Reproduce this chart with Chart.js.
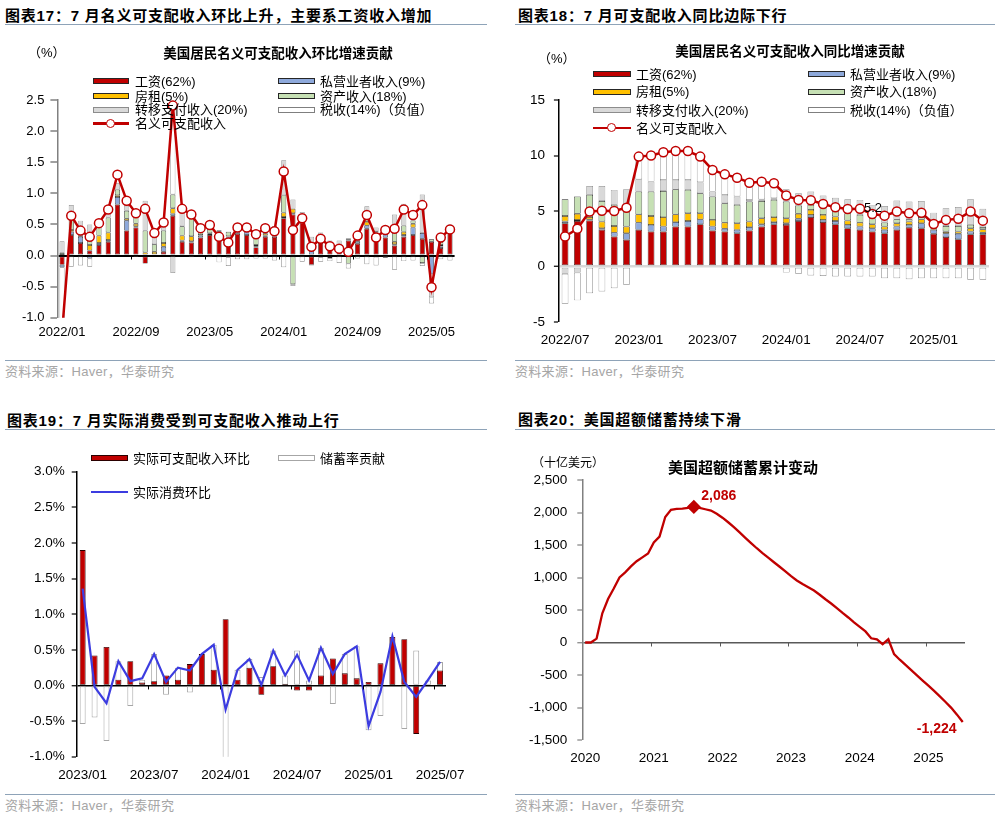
<!DOCTYPE html>
<html>
<head>
<meta charset="utf-8">
<script src="https://cdn.jsdelivr.net/npm/chart.js@4.4.1/dist/chart.umd.min.js"></script>
<style>
body { margin: 0; background: #fff; }
#page { position: relative; width: 995px; height: 814px; overflow: hidden; background: #fff;
  font-family: "Liberation Sans", "Noto Sans CJK SC", sans-serif; color: #000; }
#page div, #page canvas { position: absolute; }
.t { font-weight: bold; font-size: 15px; line-height: 15px; letter-spacing: .8px; white-space: nowrap; }
.rule { height: 1.5px; background: #8ea3b8; }
.src { font-size: 13px; line-height: 13px; color: #a6a6a6; white-space: nowrap; letter-spacing: .3px; }
.ct { font-weight: bold; font-size: 13.5px; line-height: 14px; white-space: nowrap; transform: translateX(-50%); }
.u { font-size: 13px; line-height: 13px; white-space: nowrap; }
.lt { font-size: 13px; line-height: 13px; white-space: nowrap; }
.sw { height: 6px; box-sizing: border-box; border: 1px solid #262626; }
</style>
</head>
<body>
<div id="page">
  <canvas id="c1" width="495" height="320" style="left:0;top:40px"></canvas>
  <canvas id="c2" width="490" height="320" style="left:505px;top:40px"></canvas>
  <canvas id="c3" width="495" height="350" style="left:0;top:440px"></canvas>
  <canvas id="c4" width="490" height="350" style="left:505px;top:440px"></canvas>
</div>
<script>
// month labels helper
function months(start, n) {
  const [y0, m0] = start.split('/').map(Number);
  const out = [];
  for (let i = 0; i < n; i++) {
    const t = m0 - 1 + i;
    out.push((y0 + Math.floor(t / 12)) + '/' + String(t % 12 + 1).padStart(2, '0'));
  }
  return out;
}

// ---- chart 17: MoM contribution (2022/01 - 2025/07)
const cats1 = months('2022/01', 43);
const ticks1 = ['2022/01', '2022/09', '2023/05', '2024/01', '2024/09', '2025/05'];
const wage1 = [-0.15, 0.33, 0.2, 0.08, 0.17, 0.22, 0.82, 0.4, 0.45, -0.13, -0.02, 0.06, 0.64, 0.22, 0.21, 0.29, 0.33, 0.27, 0.29, 0.35, 0.33,
  0.13, 0.3, 0.3, 0.6, 0.66, 0.53, -0.15, 0.2, 0.11, 0.08, 0.24, 0.19, 0.43, 0.3, 0.29, 0.16, 0.3, 0.33, 0.27, 0.22, 0.12, 0.38];
const prop1 = [-0.04, 0.05, 0.1, -0.05, 0.03, 0.03, 0.12, 0.16, 0.02, 0, 0.02, 0.08, 0.03, 0.02, 0.02, 0.03, 0.02, 0.12, 0.01, 0.05, 0.06,
  0.02, 0.02, 0.04, 0.02, 0.02, 0.03, 0.1, 0.02, 0.05, 0.02, 0.02, 0.03, 0.05, 0.07, 0.06, 0.02, 0.03, 0.12, 0.09, -0.3, 0.03, 0.03];
const rent1 = [0.01, 0.03, 0.02, 0.09, 0.12, 0.12, 0.03, 0.03, 0.04, 0.05, 0.04, 0.06, 0.09, 0.08, 0.08, 0.01, 0.01, 0.01, 0.01, 0.02, 0.02,
  0.02, 0.03, 0.02, 0.07, 0.07, 0.03, 0.02, -0.03, -0.04, 0.01, 0.01, 0.02, 0.06, 0.02, 0.01, 0.04, 0.05, 0.06, 0.01, 0, 0.02, 0.02];
const asset1 = [0.03, 0.2, 0.1, 0.2, 0.17, 0.24, 0.09, 0.13, 0.13, 0.35, 0.12, 0.2, 0.22, 0.15, 0.33, 0.1, 0.1, 0.01, 0.07, 0.05, 0.06,
  0.13, 0.06, 0.05, 0.28, -0.46, 0.05, 0.06, 0.06, 0.03, 0.04, -0.13, 0.06, 0.13, -0.02, 0.03, 0.18, 0.1, 0.05, -0.12, 0.04, 0.05, 0.03];
const transfer1 = [0.19, 0.2, 0.14, 0.13, 0.04, 0.13, 0.1, 0.08, 0.05, 0.48, 0.2, 0.13, -0.28, 0.28, 0.05, 0.03, 0.06, 0, -0.03, 0.04, 0.04,
  0.09, 0.08, 0.06, 0.56, 0.15, 0.06, 0.12, 0.09, 0.05, 0.09, 0.01, 0.07, 0.12, 0.06, 0.06, 0.26, 0.35, 0.16, 0.61, -0.37, 0.13, 0.04];
const tax1 = [-1.3, -0.18, -0.16, -0.13, -0.02, 0, 0.13, 0.08, -0.01, 0, 0, 0, 1.42, 0, -0.03, -0.02, -0.03, -0.11, -0.14, -0.06, -0.06,
  -0.05, -0.05, -0.08, -0.19, -0.03, -0.1, -0.01, -0.07, -0.05, -0.12, -0.08, -0.05, -0.14, -0.14, -0.04, -0.23, -0.09, -0.08, -0.05, -0.1, -0.06, -0.08];
const income1 = [-1.25, 0.64, 0.40, 0.30, 0.52, 0.74, 1.30, 0.88, 0.68, 0.75, 0.36, 0.53, 2.41, 0.75, 0.66, 0.44, 0.49, 0.30, 0.21, 0.45, 0.45,
  0.34, 0.44, 0.39, 1.35, 0.41, 0.60, 0.14, 0.27, 0.15, 0.11, 0.06, 0.32, 0.65, 0.29, 0.41, 0.43, 0.74, 0.65, 0.81, -0.51, 0.29, 0.42];

// ---- chart 18: YoY contribution (2022/07 - 2025/05)
const cats2 = months('2022/07', 35);
const ticks2 = ['2022/07', '2023/01', '2023/07', '2024/01', '2024/07', '2025/01'];
const wage2 = [3.9, 4.1, 4.15, 3.3, 2.7, 2.4, 3.3, 3.15, 3.15, 3.6, 3.6, 3.8, 3.25, 3.15, 3.0, 3.25, 3.6, 3.8,
  3.75, 4.1, 4.45, 4.0, 3.8, 3.45, 3.3, 3.15, 3.0, 3.3, 3.5, 3.45, 2.95, 2.65, 2.45, 2.9, 2.9];
const prop2 = [0.15, 0.1, 0.1, 0.15, 0.35, 0.6, 0.65, 0.6, 0.45, 0.4, 0.5, 0.45, 0.35, 0.25, 0.3, 0.3, 0.2, 0.2,
  0.15, 0.2, 0.2, 0.2, 0.3, 0.3, 0.3, 0.3, 0.3, 0.3, 0.25, 0.45, 0.35, 0.35, 0.5, 0.25, 0.15];
const rent2 = [0.5, 0.55, 0.2, 0.6, 0.6, 0.6, 0.75, 0.8, 0.85, 0.7, 0.7, 0.55, 0.6, 0.55, 0.6, 0.5, 0.55, 0.45,
  0.45, 0.45, 0.45, 0.45, 0.4, 0.4, 0.35, 0.35, 0.3, 0.3, 0.3, 0.35, 0.15, 0.15, 0.2, 0.3, 0.3];
const asset2 = [1.5, 1.55, 2.0, 1.85, 1.9, 1.7, 2.05, 2.2, 2.35, 2.25, 2.1, 1.8, 2.1, 1.75, 1.65, 1.8, 1.55, 1.55,
  1.5, 0.75, 0.45, 0.7, 0.55, 0.65, 0.7, 0.55, 0.35, 0.35, 0.2, 0.2, 0.15, 0.5, 0.5, 0.3, 0.2];
const transfer2 = [-0.65, -0.55, 0.8, 1.35, 1.35, 1.65, 1.1, 0.9, 1.0, 0.85, 0.9, 1.0, 0.45, 0.75, 0.75, 0.15, 0.15, 0.15,
  1.1, 1.1, 1.2, 1.05, 1.15, 1.25, 1.35, 1.2, 1.5, 1.7, 1.6, 1.45, 1.25, 1.6, 1.7, 2.3, 1.65];
const tax2 = [-2.7, -2.5, -2.4, -2.25, -1.95, -1.65, 2.05, 2.4, 2.5, 2.6, 2.6, 2.35, 1.95, 1.85, 1.7, 1.55, 1.6, 1.35,
  -0.55, -0.65, -0.8, -0.85, -0.9, -0.9, -0.9, -0.9, -1.05, -1.05, -1.15, -1.05, -1.05, -1.05, -1.05, -1.2, -1.2];
const income2 = [2.7, 3.4, 4.95, 5.03, 5.0, 5.3, 9.9, 10.0, 10.3, 10.4, 10.4, 9.9, 8.7, 8.3, 8.0, 7.55, 7.64, 7.5,
  6.4, 6.0, 5.97, 5.63, 5.33, 5.18, 5.2, 4.73, 4.58, 4.95, 4.8, 4.85, 3.83, 4.2, 4.3, 4.95, 4.13];

// ---- chart 19: real income, saving rate, real spending (2023/01 - 2025/07)
const cats3 = months('2023/01', 31);
const ticks3 = ['2023/01', '2023/07', '2024/01', '2024/07', '2025/01', '2025/07'];
const realIncome3 = [1.90, 0.42, 0.54, 0.08, 0.34, 0.04, 0.06, 0.14, 0.08, 0.30, 0.44, 0.22, 0.93, 0.08, 0.25, -0.13,
  0.27, 0.02, -0.07, -0.07, 0.14, 0.38, 0.17, 0.10, 0.05, 0.31, 0.68, 0.65, -0.68, 0.01, 0.21];
const saving3 = [-0.54, -0.45, -0.78, 0.34, -0.29, 0.08, 0.44, -0.13, 0.25, -0.10, 0.02, 0.57, -1.25, 0.22, 0.37, 0.12,
  0.49, 0.14, 0.49, 0.07, 0.53, -0.26, 0.44, 0.55, -0.63, -0.43, 0.02, -0.61, 0.49, 0.07, 0.33];
const spending3 = [1.36, -0.02, -0.25, 0.34, 0.06, 0.10, 0.44, 0.05, 0.25, 0.21, 0.44, 0.57, -0.34, 0.22, 0.37, 0.01,
  0.49, 0.14, 0.43, 0.07, 0.53, 0.16, 0.44, 0.55, -0.57, -0.09, 0.69, 0.05, -0.16, 0.08, 0.33];

// ---- chart 20: cumulative excess savings, bn USD, monthly from 2020/01
const years4 = ['2020', '2021', '2022', '2023', '2024', '2025'];
const excess4 = [0, 0, 60, 450, 670, 830, 1000, 1080, 1170, 1250, 1310, 1370,
  1540, 1630, 1930, 2040, 2055, 2060, 2070, 2086, 2070, 2050, 2030, 1980,
  1920, 1850, 1775, 1693, 1610, 1530, 1450, 1375, 1305, 1235, 1165, 1095,
  1020, 955, 900, 850, 800, 735, 665, 600, 530, 455, 385, 310,
  240, 170, 65, 50, -25, 50, -180, -265, -345, -425, -505, -585,
  -665, -745, -830, -915, -1005, -1110, -1224];

const RED = '#C00000', BLUE = '#8EA9DB', YELLOW = '#FFC000', GREEN = '#C6E0B4', GRAY = '#D9D9D9';
const FONT = 'Liberation Sans';

// small ticks on the zero line + data labels
const decor = {
  id: 'decor',
  afterDatasetsDraw(chart, args, opts) {
    const ctx = chart.ctx, xs = chart.scales.x, ys = chart.scales.y;
    if (opts.ticks) {
      const y0 = ys.getPixelForValue(0);
      ctx.save();
      ctx.strokeStyle = opts.tickColor;
      ctx.lineWidth = 1;
      opts.ticks.forEach(v => {
        const px = Math.round(xs.getPixelForValue(v)) + 0.5;
        ctx.beginPath(); ctx.moveTo(px, y0); ctx.lineTo(px, y0 + opts.tickLen); ctx.stroke();
      });
      ctx.restore();
    }
    (opts.labels || []).forEach(l => {
      const pt = chart.getDatasetMeta(l.ds).data[l.index];
      ctx.save();
      ctx.font = l.font; ctx.fillStyle = l.color;
      ctx.textAlign = 'center'; ctx.textBaseline = 'middle';
      ctx.fillText(l.text, pt.x + l.dx, pt.y + l.dy);
      ctx.restore();
    });
  }
};

const isZero = c => Math.abs(c.tick.value) < 1e-9;

function stackSet(label, data, color, border) {
  return { type: 'bar', label, data, backgroundColor: color, borderColor: border || '#262626', borderWidth: 0.7,
    borderSkipped: false, stack: 'b', barPercentage: 0.55, categoryPercentage: 1, order: 2 };
}
function incomeLine(data) {
  return { type: 'line', label: '名义可支配收入', data, borderColor: RED, borderWidth: 2.5, pointRadius: 4.5,
    pointBackgroundColor: '#fff', pointBorderColor: RED, pointBorderWidth: 1.5, stack: 'l', order: 0 };
}
function catX(ticks, size, height, pad) {
  return {
    stacked: true, offset: true, grid: { display: false, drawTicks: false }, border: { display: false },
    ticks: { autoSkip: false, maxRotation: 0, padding: pad, color: '#000', font: { family: FONT, size },
      callback(v) { const l = this.getLabelForValue(v); return ticks.includes(l) ? l : ''; } },
    afterFit(s) { s.height = height; }
  };
}
function boundaryTicks(cats, ticks) {
  return ticks.slice(1).map(l => cats.indexOf(l) - 0.5);
}
const base = { responsive: false, animation: false };
const noLegend = { legend: { display: false }, tooltip: { enabled: false } };

new Chart(document.getElementById('c1'), {
  type: 'bar',
  data: { labels: cats1, datasets: [
    incomeLine(income1),
    stackSet('工资(62%)', wage1, RED),
    stackSet('私营业者收入(9%)', prop1, BLUE),
    stackSet('房租(5%)', rent1, YELLOW),
    stackSet('资产收入(18%)', asset1, GREEN),
    stackSet('转移支付收入(20%)', transfer1, GRAY, '#8c8c8c'),
    stackSet('税收(14%)（负值）', tax1, '#fff', '#7f7f7f')
  ] },
  options: { ...base,
    layout: { padding: { left: 0, top: 60, right: 40.4, bottom: 12.3 } },
    plugins: { ...noLegend, decor: { ticks: boundaryTicks(cats1, ticks1), tickLen: 4, tickColor: '#000' } },
    scales: {
      x: catX(ticks1, 13, 30, 7),
      y: { stacked: true, min: -1, max: 2.5, z: 1,
        ticks: { stepSize: 0.5, padding: 6, color: '#000', font: { family: FONT, size: 13 }, callback: v => v.toFixed(1) },
        grid: { color: c => isZero(c) ? '#000' : 'rgba(0,0,0,0)', lineWidth: c => isZero(c) ? 2 : 0,
          tickColor: '#808080', tickLength: 7, tickWidth: 1.5 },
        border: { color: '#808080', width: 1.5 },
        afterFit(s) { s.width = 57.4; } }
    } },
  plugins: [decor]
});

const idx2 = cats2.indexOf('2024/07');
new Chart(document.getElementById('c2'), {
  type: 'bar',
  data: { labels: cats2, datasets: [
    incomeLine(income2),
    stackSet('工资(62%)', wage2, RED),
    stackSet('私营业者收入(9%)', prop2, BLUE),
    stackSet('房租(5%)', rent2, YELLOW),
    stackSet('资产收入(18%)', asset2, GREEN),
    stackSet('转移支付收入(20%)', transfer2, GRAY, '#8c8c8c'),
    stackSet('税收(14%)（负值）', tax2, '#fff', '#7f7f7f')
  ] },
  options: { ...base,
    layout: { padding: { left: 0, top: 60, right: 6, bottom: 8 } },
    plugins: { ...noLegend, decor: { labels: [
      { ds: 0, index: idx2, text: income2[idx2].toFixed(1), dx: 13, dy: 0, font: '13px "Liberation Sans"', color: '#000' }
    ] } },
    scales: {
      x: catX(ticks2, 13.5, 30, 10),
      y: { stacked: true, min: -5, max: 15,
        ticks: { stepSize: 5, padding: 9, color: '#000', font: { family: FONT, size: 13.5 } },
        grid: { color: c => isZero(c) ? '#D9D9D9' : 'rgba(0,0,0,0)', lineWidth: c => isZero(c) ? 2.5 : 0,
          tickColor: '#000', tickLength: 5, tickWidth: 1.2 },
        border: { color: '#000', width: 1.5 },
        afterFit(s) { s.width = 53.9; } }
    } },
  plugins: [decor]
});

new Chart(document.getElementById('c3'), {
  type: 'bar',
  data: { labels: cats3, datasets: [
    { type: 'line', label: '实际消费环比', data: spending3, borderColor: '#3C3CE0', borderWidth: 2.2, pointRadius: 0, order: 0 },
    { label: '实际可支配收入环比', data: realIncome3, backgroundColor: RED, borderColor: '#2a0000', borderWidth: 0.8,
      borderSkipped: false, grouped: false, barPercentage: 0.5, categoryPercentage: 1, order: 1 },
    { label: '储蓄率贡献', data: saving3, backgroundColor: '#fff', borderColor: '#a6a6a6', borderWidth: 1,
      borderSkipped: false, grouped: false, barPercentage: 0.5, categoryPercentage: 1, order: 2 }
  ] },
  options: { ...base,
    layout: { padding: { left: 0, top: 31.7, right: 49, bottom: 5.3 } },
    plugins: { ...noLegend, decor: { ticks: boundaryTicks(cats3, ticks3), tickLen: 4, tickColor: '#000' } },
    scales: {
      x: { ...catX(ticks3, 13.5, 28, 10), stacked: false },
      y: { min: -1, max: 3, z: 1,
        ticks: { stepSize: 0.5, padding: 7, color: '#000', font: { family: FONT, size: 13.5 }, callback: v => v.toFixed(1) + '%' },
        grid: { color: c => isZero(c) ? '#000' : 'rgba(0,0,0,0)', lineWidth: c => isZero(c) ? 1.5 : 0,
          tickColor: '#000', tickLength: 5, tickWidth: 1.2 },
        border: { color: '#000', width: 1.5 },
        afterFit(s) { s.width = 76.7; } }
    } },
  plugins: [decor]
});

const peak4 = excess4.indexOf(Math.max(...excess4));
const last4 = excess4.length - 1;
new Chart(document.getElementById('c4'), {
  type: 'line',
  data: { datasets: [{
    label: '美国超额储蓄累计变动', data: excess4.map((v, i) => ({ x: i, y: v })),
    borderColor: RED, borderWidth: 2.3, pointStyle: 'rectRot',
    pointRadius: c => c.dataIndex === peak4 ? 5.5 : 0,
    pointBackgroundColor: RED, pointBorderColor: RED
  }] },
  options: { ...base,
    layout: { padding: { left: 0, top: 40, right: 30, bottom: 20 } },
    plugins: { ...noLegend, decor: {
      ticks: years4.slice(1).map((_, k) => 12 * (k + 1) - 0.5), tickLen: 4, tickColor: '#595959',
      labels: [
        { ds: 0, index: peak4, text: excess4[peak4].toLocaleString('en-US'), dx: 25, dy: -10.5, font: 'bold 14px "Liberation Sans"', color: RED },
        { ds: 0, index: last4, text: excess4[last4].toLocaleString('en-US'), dx: -26, dy: 7.5, font: 'bold 14px "Liberation Sans"', color: RED }
      ] } },
    scales: {
      x: { type: 'linear', min: -0.5, max: 66.4, grid: { display: false, drawTicks: false }, border: { display: false },
        afterBuildTicks(s) { s.ticks = years4.map((_, k) => ({ value: 12 * k })); },
        ticks: { padding: 10, color: '#000', font: { family: FONT, size: 13.5 }, callback: v => years4[v / 12] },
        afterFit(s) { s.height = 30; } },
      y: { min: -1500, max: 2500,
        ticks: { stepSize: 500, padding: 10, color: '#000', font: { family: FONT, size: 13.5 }, callback: v => v.toLocaleString('en-US') },
        grid: { color: c => isZero(c) ? '#595959' : 'rgba(0,0,0,0)', lineWidth: c => isZero(c) ? 1.5 : 0,
          tickColor: '#808080', tickLength: 5, tickWidth: 1.2 },
        border: { color: '#808080', width: 1.5 },
        afterFit(s) { s.width = 77.3; } }
    } },
  plugins: [decor]
});

// ---- text, rules and legends
const page = document.getElementById('page');
function put(cls, x, y, html, style) {
  const d = document.createElement('div');
  d.className = cls;
  d.style.left = x + 'px'; d.style.top = y + 'px';
  if (html) d.innerHTML = html;
  if (style) Object.assign(d.style, style);
  page.appendChild(d);
  return d;
}
function swatch(x, y, w, fill, border) {
  put('sw', x, y - 3, '', { width: w + 'px', background: fill, borderColor: border || '#262626' });
}
function lineKey(x, y, w, color, marker) {
  put('', x, y - 1.25, '', { width: w + 'px', height: '2.5px', background: color });
  if (marker) put('', x + w / 2 - 5, y - 5, '', { width: '7px', height: '7px', borderRadius: '50%', background: '#fff', border: '1.5px solid ' + color });
}
function key(x, y, text) { put('lt', x, y - 6.5, text); }

// titles + rules
put('t', 5, 7.5, '图表17：7 月名义可支配收入环比上升，主要系工资收入增加');
put('rule', 5, 23.5, '', { width: '482px' });
put('t', 518, 7.5, '图表18：7 月可支配收入同比边际下行');
put('rule', 515, 23.5, '', { width: '480px' });
put('t', 7, 412.5, '图表19：7 月实际消费受到可支配收入推动上行');
put('rule', 5, 428.5, '', { width: '482px' });
put('t', 518, 411.5, '图表20：美国超额储蓄持续下滑');
put('rule', 515, 428.5, '', { width: '480px' });

// sources
put('rule', 5, 359.5, '', { width: '482px', height: '1px' });
put('rule', 515, 359.5, '', { width: '480px', height: '1px' });
put('rule', 5, 793.5, '', { width: '482px', height: '1px' });
put('rule', 515, 793.5, '', { width: '480px', height: '1px' });
put('src', 5, 364.5, '资料来源：Haver，华泰研究');
put('src', 515, 364.5, '资料来源：Haver，华泰研究');
put('src', 5, 798.5, '资料来源：Haver，华泰研究');
put('src', 515, 798.5, '资料来源：Haver，华泰研究');

// chart 17 texts
put('u', 28, 45.5, '（%）');
put('ct', 278, 47, '美国居民名义可支配收入环比增速贡献');
const rows1 = [81, 96, 109.5, 123.5];
swatch(93, rows1[0], 36, RED); key(135, rows1[0], '工资(62%)');
swatch(278, rows1[0], 37, BLUE); key(320, rows1[0], '私营业者收入(9%)');
swatch(93, rows1[1], 36, YELLOW); key(135, rows1[1], '房租(5%)');
swatch(278, rows1[1], 37, GREEN); key(320, rows1[1], '资产收入(18%)');
swatch(93, rows1[2], 36, GRAY, '#8c8c8c'); key(135, rows1[2], '转移支付收入(20%)');
swatch(278, rows1[2], 37, '#fff', '#7f7f7f'); key(320, rows1[2], '税收(14%)（负值）');
lineKey(93, rows1[3], 36, RED, true); key(135, rows1[3], '名义可支配收入');

// chart 18 texts
put('u', 538, 51.5, '（%）');
put('ct', 790, 45, '美国居民名义可支配收入同比增速贡献');
const rows2 = [74, 91.5, 110, 128];
swatch(593, rows2[0], 38, RED); key(636, rows2[0], '工资(62%)');
swatch(808, rows2[0], 37, BLUE); key(850, rows2[0], '私营业者收入(9%)');
swatch(593, rows2[1], 38, YELLOW); key(636, rows2[1], '房租(5%)');
swatch(808, rows2[1], 37, GREEN); key(850, rows2[1], '资产收入(18%)');
swatch(593, rows2[2], 38, GRAY, '#8c8c8c'); key(636, rows2[2], '转移支付收入(20%)');
swatch(808, rows2[2], 37, '#fff', '#7f7f7f'); key(850, rows2[2], '税收(14%)（负值）');
lineKey(593, rows2[3], 38, RED, true); key(636, rows2[3], '名义可支配收入');

// chart 19 texts
swatch(91, 458, 37, RED, '#2a0000'); key(133, 458, '实际可支配收入环比');
swatch(278, 458, 37, '#fff', '#a6a6a6'); key(320, 458, '储蓄率贡献');
lineKey(91, 492, 37, '#3C3CE0', false); key(133, 492, '实际消费环比');

// chart 20 texts
put('u', 532, 457, '（十亿美元）', { fontSize: '12px', lineHeight: '12px' });
put('ct', 743, 459.5, '美国超额储蓄累计变动', { fontSize: '15px', lineHeight: '15px' });
</script>
</body>
</html>
